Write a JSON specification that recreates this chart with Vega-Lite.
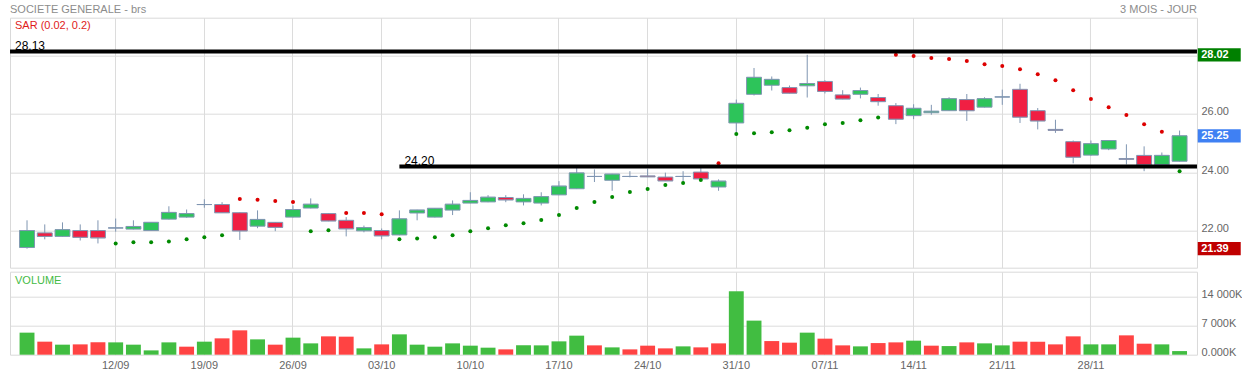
{
  "$schema": "https://vega.github.io/schema/vega-lite/v6.json",
  "background": "white",
  "padding": {"left": 7, "top": 3.7, "right": 0, "bottom": 0},
  "data": {"values": [
    {"d":"05/09","o":21.43,"h":22.36,"l":21.39,"c":22.01,"sar":null,"v":5311},
    {"d":"06/09","o":21.93,"h":22.22,"l":21.71,"c":21.81,"sar":null,"v":3138},
    {"d":"09/09","o":21.81,"h":22.29,"l":21.80,"c":22.04,"sar":null,"v":2414},
    {"d":"10/09","o":22.01,"h":22.22,"l":21.67,"c":21.78,"sar":null,"v":2486},
    {"d":"11/09","o":22.01,"h":22.36,"l":21.57,"c":21.76,"sar":null,"v":2969},
    {"d":"12/09","o":22.10,"h":22.42,"l":21.97,"c":22.10,"sar":21.57,"v":2969},
    {"d":"13/09","o":22.06,"h":22.36,"l":22.05,"c":22.15,"sar":21.61,"v":2414},
    {"d":"16/09","o":22.01,"h":22.29,"l":22.00,"c":22.29,"sar":21.61,"v":1038},
    {"d":"17/09","o":22.40,"h":22.84,"l":22.39,"c":22.63,"sar":21.64,"v":2969},
    {"d":"18/09","o":22.47,"h":22.73,"l":22.45,"c":22.59,"sar":21.71,"v":1931},
    {"d":"19/09","o":22.90,"h":23.08,"l":22.79,"c":22.90,"sar":21.78,"v":3138},
    {"d":"20/09","o":22.90,"h":22.98,"l":22.61,"c":22.62,"sar":21.85,"v":3935},
    {"d":"23/09","o":22.62,"h":22.63,"l":21.69,"c":22.00,"sar":23.09,"v":5866},
    {"d":"24/09","o":22.16,"h":22.70,"l":22.09,"c":22.39,"sar":23.06,"v":3693},
    {"d":"25/09","o":22.29,"h":22.30,"l":21.99,"c":22.12,"sar":23.02,"v":2414},
    {"d":"26/09","o":22.47,"h":22.87,"l":22.46,"c":22.73,"sar":22.99,"v":4104},
    {"d":"27/09","o":22.78,"h":23.11,"l":22.77,"c":22.91,"sar":21.99,"v":2728},
    {"d":"30/09","o":22.59,"h":22.60,"l":22.33,"c":22.34,"sar":22.02,"v":4418},
    {"d":"01/10","o":22.36,"h":22.47,"l":21.81,"c":22.07,"sar":22.61,"v":4345},
    {"d":"02/10","o":22.00,"h":22.18,"l":21.95,"c":22.11,"sar":22.61,"v":1521},
    {"d":"03/10","o":22.01,"h":22.08,"l":21.71,"c":21.83,"sar":22.57,"v":2486},
    {"d":"04/10","o":21.86,"h":22.70,"l":21.85,"c":22.41,"sar":21.71,"v":4900},
    {"d":"07/10","o":22.61,"h":22.72,"l":22.36,"c":22.71,"sar":21.74,"v":2414},
    {"d":"08/10","o":22.47,"h":22.78,"l":22.46,"c":22.77,"sar":21.78,"v":1931},
    {"d":"09/10","o":22.71,"h":23.04,"l":22.54,"c":22.91,"sar":21.85,"v":2728},
    {"d":"10/10","o":22.95,"h":23.32,"l":22.94,"c":23.04,"sar":21.99,"v":2173},
    {"d":"11/10","o":22.99,"h":23.22,"l":22.98,"c":23.15,"sar":22.09,"v":1690},
    {"d":"14/10","o":23.14,"h":23.22,"l":22.98,"c":23.06,"sar":22.19,"v":1280},
    {"d":"15/10","o":22.99,"h":23.25,"l":22.87,"c":23.11,"sar":22.26,"v":2245},
    {"d":"16/10","o":22.95,"h":23.32,"l":22.87,"c":23.17,"sar":22.37,"v":2245},
    {"d":"17/10","o":23.23,"h":23.70,"l":23.22,"c":23.53,"sar":22.54,"v":3211},
    {"d":"18/10","o":23.44,"h":24.19,"l":23.43,"c":23.98,"sar":22.78,"v":4587},
    {"d":"21/10","o":23.86,"h":24.10,"l":23.67,"c":23.86,"sar":22.99,"v":2245},
    {"d":"22/10","o":23.73,"h":23.95,"l":23.37,"c":23.94,"sar":23.16,"v":1762},
    {"d":"23/10","o":23.86,"h":24.04,"l":23.83,"c":23.86,"sar":23.33,"v":1280},
    {"d":"24/10","o":23.88,"h":24.12,"l":23.84,"c":23.85,"sar":23.43,"v":2173},
    {"d":"25/10","o":23.84,"h":23.99,"l":23.70,"c":23.71,"sar":23.57,"v":1521},
    {"d":"28/10","o":23.86,"h":24.04,"l":23.66,"c":23.86,"sar":23.64,"v":2004},
    {"d":"29/10","o":24.01,"h":24.17,"l":23.77,"c":23.78,"sar":23.74,"v":1762},
    {"d":"30/10","o":23.50,"h":23.76,"l":23.37,"c":23.70,"sar":24.31,"v":2728},
    {"d":"31/10","o":25.69,"h":26.49,"l":25.32,"c":26.36,"sar":25.31,"v":15281},
    {"d":"01/11","o":26.67,"h":27.57,"l":26.63,"c":27.25,"sar":25.34,"v":8208},
    {"d":"04/11","o":26.98,"h":27.28,"l":26.80,"c":27.18,"sar":25.37,"v":3283},
    {"d":"05/11","o":26.90,"h":26.97,"l":26.70,"c":26.71,"sar":25.44,"v":2897},
    {"d":"06/11","o":26.96,"h":28.02,"l":26.56,"c":27.04,"sar":25.53,"v":5311},
    {"d":"07/11","o":27.11,"h":27.15,"l":26.70,"c":26.77,"sar":25.65,"v":3862},
    {"d":"08/11","o":26.65,"h":26.81,"l":26.50,"c":26.51,"sar":25.69,"v":2245},
    {"d":"11/11","o":26.67,"h":26.90,"l":26.53,"c":26.80,"sar":25.78,"v":2004},
    {"d":"12/11","o":26.56,"h":26.68,"l":26.28,"c":26.42,"sar":25.88,"v":2800},
    {"d":"13/11","o":26.28,"h":26.37,"l":25.65,"c":25.82,"sar":28.02,"v":2969},
    {"d":"14/11","o":25.94,"h":26.33,"l":25.82,"c":26.19,"sar":27.98,"v":3380},
    {"d":"15/11","o":26.04,"h":26.31,"l":25.97,"c":26.09,"sar":27.91,"v":2173},
    {"d":"18/11","o":26.11,"h":26.57,"l":26.10,"c":26.52,"sar":27.88,"v":2076},
    {"d":"19/11","o":26.49,"h":26.68,"l":25.76,"c":26.11,"sar":27.81,"v":2969},
    {"d":"20/11","o":26.23,"h":26.57,"l":26.22,"c":26.52,"sar":27.70,"v":2728},
    {"d":"21/11","o":26.58,"h":26.83,"l":26.31,"c":26.58,"sar":27.64,"v":2245},
    {"d":"22/11","o":26.84,"h":27.03,"l":25.69,"c":25.89,"sar":27.53,"v":3138},
    {"d":"25/11","o":26.11,"h":26.20,"l":25.47,"c":25.76,"sar":27.36,"v":3138},
    {"d":"26/11","o":25.47,"h":25.80,"l":25.35,"c":25.44,"sar":27.15,"v":2486},
    {"d":"27/11","o":25.05,"h":25.09,"l":24.31,"c":24.52,"sar":26.81,"v":4418},
    {"d":"28/11","o":24.59,"h":25.09,"l":24.57,"c":24.98,"sar":26.51,"v":2486},
    {"d":"29/11","o":24.80,"h":25.09,"l":24.76,"c":25.09,"sar":26.23,"v":2486},
    {"d":"02/12","o":24.47,"h":24.96,"l":24.27,"c":24.45,"sar":25.96,"v":4659},
    {"d":"03/12","o":24.58,"h":24.89,"l":24.04,"c":24.26,"sar":25.65,"v":2650},
    {"d":"04/12","o":24.27,"h":24.68,"l":24.25,"c":24.58,"sar":25.39,"v":2486},
    {"d":"05/12","o":24.38,"h":25.43,"l":24.37,"c":25.25,"sar":24.04,"v":869}
  ]},
  "columns": 2,
  "spacing": {"row": 4, "column": 0},
  "bounds": "flush",
  "concat": [
    {
      "width": 1187,
      "height": 250,
      "title": {"text": "SOCIETE GENERALE - brs", "anchor": "start", "frame": "group", "fontSize": 11, "fontWeight": "normal", "color": "#8c8c8c", "offset": 2.5},
      "layer": [
        {
          "mark": {"type": "rule", "color": "#8096b2", "strokeWidth": 1},
          "encoding": {
            "x": {"field": "d", "type": "ordinal",
              "scale": {"domain": ["05/09","06/09","09/09","10/09","11/09","12/09","13/09","16/09","17/09","18/09","19/09","20/09","23/09","24/09","25/09","26/09","27/09","30/09","01/10","02/10","03/10","04/10","07/10","08/10","09/10","10/10","11/10","14/10","15/10","16/10","17/10","18/10","21/10","22/10","23/10","24/10","25/10","28/10","29/10","30/10","31/10","01/11","04/11","05/11","06/11","07/11","08/11","11/11","12/11","13/11","14/11","15/11","18/11","19/11","20/11","21/11","22/11","25/11","26/11","27/11","28/11","29/11","02/12","03/12","04/12","05/12"], "paddingInner": 0.16, "paddingOuter": 0.55, "align": 0.49},
              "axis": {"values": ["12/09","19/09","26/09","03/10","10/10","17/10","24/10","31/10","07/11","14/11","21/11","28/11"], "bandPosition": 0.5, "grid": true, "labels": false, "ticks": false, "domain": false, "title": null, "gridColor": "#dcdcdc"}},
            "y": {"field": "l", "type": "quantitative",
              "scale": {"domain": [20.74, 29.29], "nice": false, "zero": false},
              "axis": {"orient": "right", "values": [22, 24, 26, 28], "grid": true, "labels": false, "ticks": false, "domain": false, "title": null, "gridColor": "#dcdcdc"}},
            "y2": {"field": "h"}
          }
        },
        {
          "mark": {"type": "tick", "color": "#8096b2", "thickness": 1, "size": 15},
          "encoding": {
            "x": {"field": "d", "type": "ordinal"},
            "y": {"field": "c", "type": "quantitative"}
          }
        },
        {
          "mark": {"type": "bar", "stroke": "#8096b2", "strokeWidth": 1},
          "encoding": {
            "x": {"field": "d", "type": "ordinal"},
            "y": {"field": "o", "type": "quantitative"},
            "y2": {"field": "c"},
            "color": {"condition": {"test": "datum.c >= datum.o", "value": "#2dc45a"}, "value": "#f01f43"}
          }
        },
        {
          "mark": {"type": "circle", "size": 16, "opacity": 1},
          "encoding": {
            "x": {"field": "d", "type": "ordinal"},
            "y": {"field": "sar", "type": "quantitative"},
            "color": {"condition": {"test": "datum.sar > datum.h", "value": "#dd0000"}, "value": "#008a00"}
          }
        },
        {
          "data": {"values": [{"niveau": 28.13}]},
          "layer": [
            {
              "mark": {"type": "rule", "color": "black", "strokeWidth": 4},
              "encoding": {"y": {"field": "niveau", "type": "quantitative"}}
            },
            {
              "mark": {"type": "text", "align": "left", "baseline": "alphabetic", "dx": -12, "dy": -2, "fontSize": 12, "color": "black"},
              "encoding": {
                "x": {"datum": "05/09", "type": "ordinal"},
                "y": {"field": "niveau", "type": "quantitative"},
                "text": {"field": "niveau", "type": "quantitative", "format": ".2f"}
              }
            }
          ]
        },
        {
          "data": {"values": [{"niveau": 24.20, "debut": "04/10"}]},
          "layer": [
            {
              "mark": {"type": "rule", "color": "black", "strokeWidth": 4},
              "encoding": {
                "x": {"field": "debut", "type": "ordinal"},
                "x2": {"value": "width"},
                "y": {"field": "niveau", "type": "quantitative"}
              }
            },
            {
              "mark": {"type": "text", "align": "left", "baseline": "alphabetic", "dx": 5, "dy": -2, "fontSize": 12, "color": "black"},
              "encoding": {
                "x": {"field": "debut", "type": "ordinal"},
                "y": {"field": "niveau", "type": "quantitative"},
                "text": {"field": "niveau", "type": "quantitative", "format": ".2f"}
              }
            }
          ]
        },
        {
          "data": {"values": [{}]},
          "mark": {"type": "text", "text": "SAR (0.02, 0.2)", "color": "#e01b1b", "fontSize": 11, "align": "left", "baseline": "alphabetic", "dx": -12},
          "encoding": {
            "x": {"datum": "05/09", "type": "ordinal"},
            "y": {"datum": 28.91, "type": "quantitative"}
          }
        }
      ]
    },
    {
      "width": 44.5,
      "height": 250,
      "view": {"stroke": null},
      "title": {"text": "3 MOIS - JOUR", "anchor": "end", "frame": "group", "dx": -44.5, "fontSize": 11, "fontWeight": "normal", "color": "#8c8c8c", "offset": 2.5},
      "data": {"values": [
        {"lab": "28.02", "val": 28.02, "type": "plus haut"},
        {"lab": "25.25", "val": 25.25, "type": "dernier"},
        {"lab": "21.39", "val": 21.39, "type": "plus bas"}
      ]},
      "layer": [
        {
          "mark": {"type": "point", "shape": "M-1,-0.309L1,-0.309L1,0.309L-1,0.309Z", "filled": true, "size": 1849, "opacity": 1, "strokeWidth": 0},
          "encoding": {
            "y": {"field": "val", "type": "quantitative",
              "scale": {"domain": [20.74, 29.29], "nice": false, "zero": false},
              "axis": {"orient": "left", "values": [22, 24, 26], "format": ".2f", "labelAlign": "left", "labelBaseline": "middle", "labelPadding": -4, "labelOffset": -2, "labelColor": "#666666", "labelFontSize": 11, "ticks": false, "domain": false, "grid": false, "title": null}},
            "color": {"field": "type", "type": "nominal", "scale": {"domain": ["plus haut", "dernier", "plus bas"], "range": ["#008000", "#3f80f3", "#c00000"]}, "legend": null}
          }
        },
        {
          "mark": {"type": "text", "align": "left", "baseline": "middle", "dx": -18, "color": "white", "fontWeight": "bold", "fontSize": 11},
          "encoding": {
            "y": {"field": "val", "type": "quantitative"},
            "text": {"field": "lab"}
          }
        }
      ]
    },
    {
      "width": 1187,
      "height": 83,
      "layer": [
        {
          "transform": [{"window": [{"op": "lag", "field": "c", "as": "pc"}]}],
          "mark": {"type": "bar"},
          "encoding": {
            "x": {"field": "d", "type": "ordinal",
              "scale": {"domain": ["05/09","06/09","09/09","10/09","11/09","12/09","13/09","16/09","17/09","18/09","19/09","20/09","23/09","24/09","25/09","26/09","27/09","30/09","01/10","02/10","03/10","04/10","07/10","08/10","09/10","10/10","11/10","14/10","15/10","16/10","17/10","18/10","21/10","22/10","23/10","24/10","25/10","28/10","29/10","30/10","31/10","01/11","04/11","05/11","06/11","07/11","08/11","11/11","12/11","13/11","14/11","15/11","18/11","19/11","20/11","21/11","22/11","25/11","26/11","27/11","28/11","29/11","02/12","03/12","04/12","05/12"], "paddingInner": 0.16, "paddingOuter": 0.55, "align": 0.49},
              "axis": {"values": ["12/09","19/09","26/09","03/10","10/10","17/10","24/10","31/10","07/11","14/11","21/11","28/11"], "bandPosition": 0.5, "grid": true, "labels": true, "labelAngle": 0, "labelColor": "#666666", "labelFontSize": 11, "labelPadding": 5, "ticks": false, "domain": false, "title": null, "gridColor": "#dcdcdc"}},
            "y": {"field": "v", "type": "quantitative",
              "scale": {"domain": [0, 20000], "nice": false},
              "axis": {"values": [7000, 14000], "grid": true, "labels": false, "ticks": false, "domain": false, "title": null, "gridColor": "#dcdcdc"}},
            "color": {"condition": {"test": "datum.pc == null || datum.c >= datum.pc", "value": "#41bd41"}, "value": "#ff4343"}
          }
        },
        {
          "data": {"values": [{}]},
          "mark": {"type": "text", "text": "VOLUME", "color": "#44bb44", "fontSize": 11, "align": "left", "baseline": "alphabetic", "dx": -12},
          "encoding": {
            "x": {"datum": "05/09", "type": "ordinal"},
            "y": {"datum": 16950, "type": "quantitative"}
          }
        }
      ]
    },
    {
      "width": 44.5,
      "height": 83,
      "view": {"stroke": null},
      "data": {"values": [{}]},
      "mark": {"type": "point", "opacity": 0},
      "encoding": {
        "y": {"datum": 0, "type": "quantitative",
          "scale": {"domain": [0, 20000], "nice": false},
          "axis": {"orient": "left", "values": [0, 7000, 14000], "labelExpr": "datum.value == 0 ? '0.000K' : replace(format(datum.value, ','), ',', ' ') + 'K'", "labelAlign": "left", "labelBaseline": "middle", "labelPadding": -4, "labelOffset": -2, "labelColor": "#666666", "labelFontSize": 11, "ticks": false, "domain": false, "grid": false, "title": null}}
      }
    }
  ],
  "config": {
    "font": "Liberation Sans",
    "view": {"stroke": "#d9d9d9"},
    "axis": {"labelFont": "Liberation Sans"},
    "text": {"font": "Liberation Sans"},
    "title": {"font": "Liberation Sans"}
  }
}
